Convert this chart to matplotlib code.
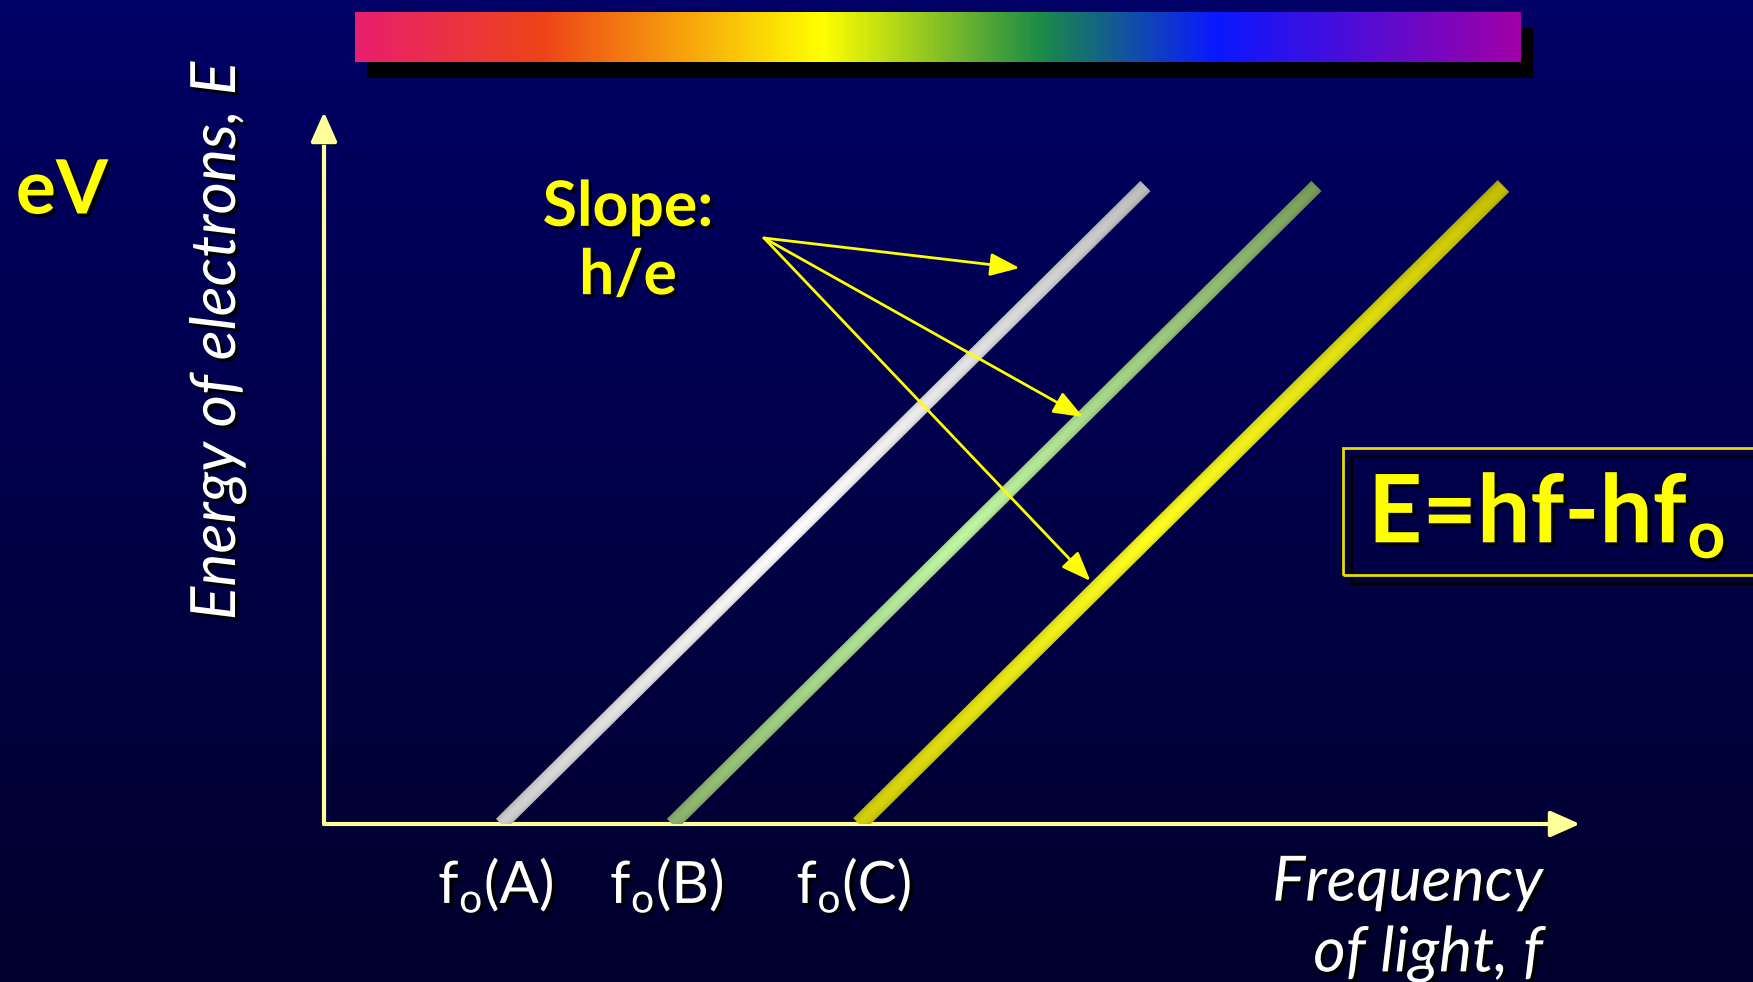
import numpy as np
import matplotlib.pyplot as plt
import matplotlib.patheffects as pe
from matplotlib.colors import LinearSegmentedColormap, to_rgb
from matplotlib.patches import Rectangle, Polygon

plt.rcParams['font.family'] = ['Lato', 'DejaVu Sans']
plt.rcParams['mathtext.fontset'] = 'custom'
plt.rcParams['mathtext.rm'] = 'Lato'
plt.rcParams['mathtext.bf'] = 'Lato:bold'

# threshold frequency of each metal and the common slope h/e (axis units)
metals = ['A', 'B', 'C']
f0 = [1.77, 3.48, 5.35]
slope = 0.99
e_top = 6.38

# colour at the ends and at the bright middle of each line
end_colors = ['#bdbdbd', '#789a58', '#c2be00']
mid_colors = ['#ffffff', '#c0f8a4', '#ffff20']
line_widths = [0.145, 0.145, 0.165]

# slope pointers: energy level on each line and the gap left before it
arrow_start = (4.40, 5.86)
arrow_energy = [5.56, 4.07, 2.43]
arrow_gap = [0.43, 0.0, 0.14]

# visible spectrum band along the top
spectrum_stops = [0.0, 0.16, 0.40, 0.59, 0.74, 1.0]
spectrum_colors = ['#e81f6e', '#ee4418', '#ffff00', '#1a8a48', '#0a18ff', '#a000a8']

W, H = 1753, 982
XMAX, YMAX = 12.56, 7.12
fig = plt.figure(figsize=(W / 100, H / 100), dpi=100)

# navy background fading towards the bottom
bg = fig.add_axes([0, 0, 1, 1], zorder=0)
grad = np.linspace(0, 1, 256).reshape(-1, 1)
bg_cmap = LinearSegmentedColormap.from_list('bg', ['#00002c', '#000066'])
bg.imshow(grad, aspect='auto', cmap=bg_cmap, extent=[0, 1, 0, 1], origin='lower')
bg.set_xlim(0, 1)
bg.set_ylim(0, 1)
bg.axis('off')

# spectrum bar with its drop shadow
bx, by, bw, bh = 355 / W, 1 - 62 / H, 1166 / W, 50 / H
bg.add_patch(Rectangle((bx + 12 / W, by - 16 / H), bw, bh, color='black', lw=0))
spec = fig.add_axes([bx, by, bw, bh], zorder=1)
spec_cmap = LinearSegmentedColormap.from_list('spectrum', list(zip(spectrum_stops, spectrum_colors)))
spec.imshow(np.linspace(0, 1, 600).reshape(1, -1), aspect='auto', cmap=spec_cmap)
spec.axis('off')

ax = fig.add_axes([324 / W, 158 / H, 1256 / W, 712 / H], zorder=2)
ax.axis('off')
ax.patch.set_alpha(0)

shadow = [pe.withSimplePatchShadow(offset=(2.5, -2.5), shadow_rgbFace='black', alpha=0.9)]
axis_color = '#ffff99'

# axes drawn as arrows
for end in [(0, YMAX), (XMAX, 0)]:
    ax.annotate('', xy=end, xytext=(0, 0), annotation_clip=False,
                arrowprops=dict(arrowstyle='-|>,head_length=0.9,head_width=0.4', color=axis_color,
                                lw=3, shrinkA=0, shrinkB=0, mutation_scale=20, zorder=4,
                                path_effects=[pe.withSimplePatchShadow(offset=(2, -2), shadow_rgbFace='black', alpha=0.9)]))

# E = (h/e)(f - f0) for each metal: a thick bar shaded along and across its length
for fz, c0, c1, wd in zip(f0, end_colors, mid_colors, line_widths):
    p0 = np.array([fz, 0.0])
    p1 = np.array([fz + e_top / slope, e_top])
    length = np.hypot(*(p1 - p0))
    u = (p1 - p0) / length
    nrm = np.array([-u[1], u[0]])
    half = wd / 2
    corners = [p0 + nrm * half, p1 + nrm * half, p1 - nrm * half, p0 - nrm * half]
    bar = Polygon(corners, closed=True, fc='none', ec='none')
    ax.add_patch(bar)

    xmin, xmax = min(c[0] for c in corners), max(c[0] for c in corners)
    ymin, ymax = min(c[1] for c in corners), max(c[1] for c in corners)
    gx, gy = np.meshgrid(np.linspace(xmin, xmax, 900), np.linspace(ymin, ymax, 900))
    along = ((gx - p0[0]) * u[0] + (gy - p0[1]) * u[1]) / length
    across = ((gx - p0[0]) * nrm[0] + (gy - p0[1]) * nrm[1]) / half
    w = np.clip(1 - np.abs(along - 0.45) / 0.55, 0, 1) ** 0.8
    a, b = np.array(to_rgb(c0)), np.array(to_rgb(c1))
    rgb = a + (b - a) * w[..., None]
    rgb = rgb * (0.86 + 0.14 * np.clip(1 - across ** 2, 0, 1))[..., None]
    im = ax.imshow(np.clip(rgb, 0, 1), extent=[xmin, xmax, ymin, ymax], origin='lower',
                   aspect='auto', interpolation='bilinear', zorder=3)
    im.set_clip_path(bar)

# pointers from the slope note to each line
for fz, e, gap in zip(f0, arrow_energy, arrow_gap):
    target = (fz + e / slope - gap, e)
    ax.annotate('', xy=target, xytext=arrow_start,
                arrowprops=dict(arrowstyle='-|>,head_length=0.9,head_width=0.35', color='#ffff00',
                                lw=2, shrinkA=0, shrinkB=0, mutation_scale=20, zorder=5))

ax.text(3.04, 5.82, 'Slope:\nh/e', color='#ffff00', fontsize=45, fontweight='bold', ha='center',
        va='center', linespacing=1.22, path_effects=shadow)

# threshold frequency labels
for m, fz in zip(metals, f0):
    ax.text(fz - 0.05, -0.61, r'f$_\mathrm{o}$(' + m + ')', color='white', fontsize=42,
            ha='center', va='center', clip_on=False, path_effects=shadow)

ax.text(12.19, -0.95, 'Frequency\nof light, f', color='white', fontsize=45, style='italic',
        ha='right', va='center', multialignment='right', linespacing=1.3,
        clip_on=False, path_effects=shadow)
ax.text(-1.06, 4.83, 'Energy of electrons, E', color='white', fontsize=45, style='italic',
        rotation=90, ha='center', va='center', clip_on=False, path_effects=shadow)
ax.text(-2.62, 6.32, 'eV', color='#ffff00', fontsize=54, fontweight='bold', ha='center',
        va='center', clip_on=False, path_effects=shadow)

# boxed photoelectric equation
box_kw = dict(fill=False, lw=2, clip_on=False)
ax.add_patch(Rectangle((10.27, 2.41), 4.2, 1.27, ec='black', zorder=3, **box_kw))
ax.add_patch(Rectangle((10.19, 2.49), 4.2, 1.27, ec='#e6dc00', zorder=4, **box_kw))
ax.text(10.44, 2.81, r'E=hf-hf$_\mathbf{o}$', color='#ffff00', fontsize=68, fontweight='bold',
        ha='left', va='baseline', clip_on=False, path_effects=shadow)

ax.set_xlim(0, XMAX)
ax.set_ylim(0, YMAX)

fig.savefig('out.png', dpi=100)
